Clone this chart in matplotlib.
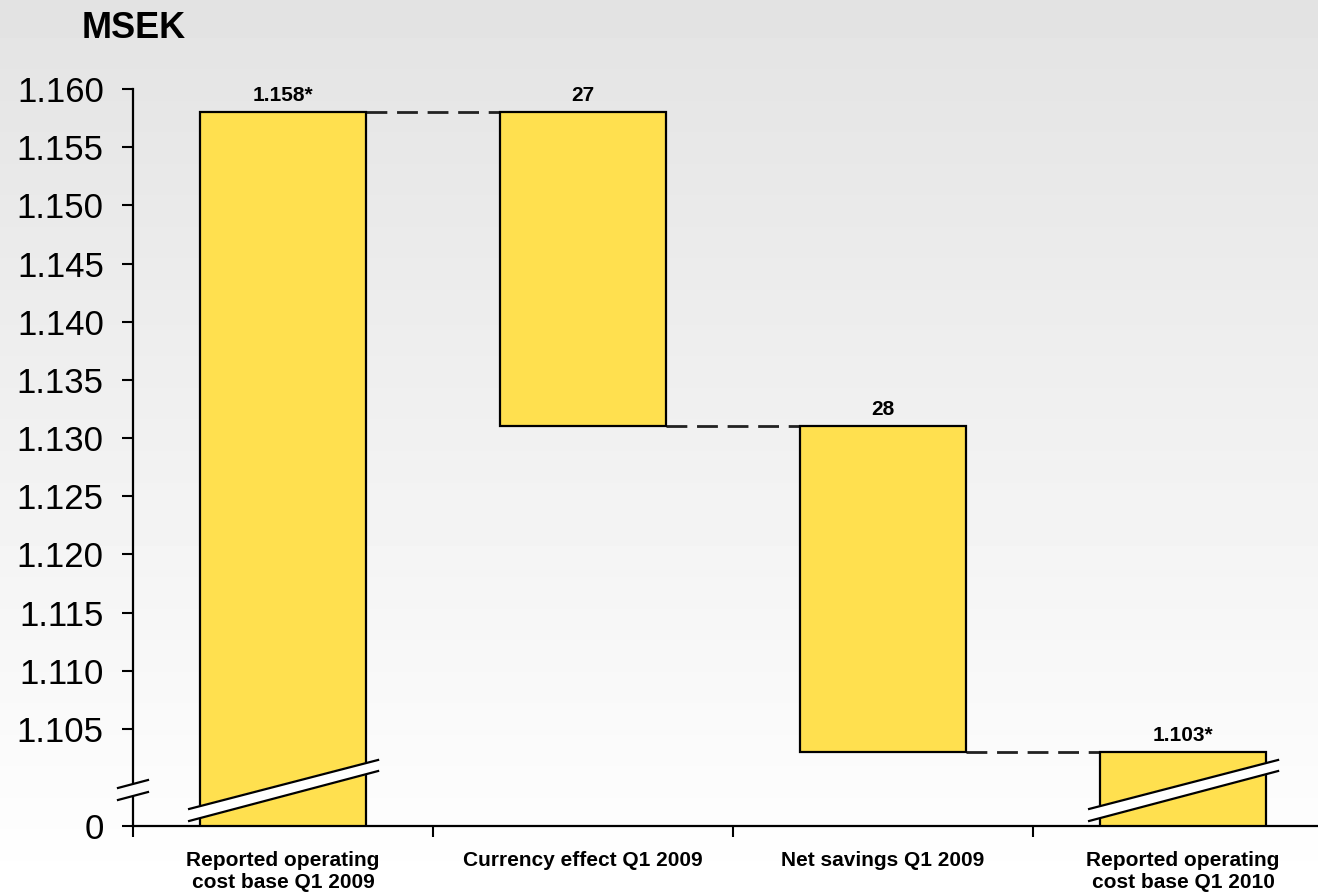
import matplotlib
matplotlib.use("Agg")
import matplotlib.pyplot as plt
import matplotlib.transforms as mtrans
import numpy as np

plt.rcParams["font.family"] = ["Liberation Sans", "DejaVu Sans"]

# data (MSEK)
categories = ["Reported operating\ncost base Q1 2009", "Currency effect Q1 2009",
              "Net savings Q1 2009", "Reported operating\ncost base Q1 2010"]
start_value = 1158
changes = [-27, -28]
end_value = 1103
labels = ["1.158*", "27", "28", "1.103*"]
ytick_vals = [1105, 1110, 1115, 1120, 1125, 1130, 1135, 1140, 1145, 1150, 1155, 1160]

YELLOW = "#FFE04F"
BASE = 1096.66          # where "0" sits on the broken axis
TOP = 1160

# waterfall geometry
tops, bottoms = [start_value], [BASE]
level = start_value
for c in changes:
    tops.append(level); bottoms.append(level + c); level += c
tops.append(end_value); bottoms.append(BASE)
tops = np.array(tops, float); bottoms = np.array(bottoms, float)
x = np.arange(len(categories))
w = 0.553

fig = plt.figure(figsize=(13.18, 8.96), dpi=100)

# gradient background
bg = fig.add_axes([0, 0, 1, 1], zorder=-10)
grad = np.linspace(0.89, 1.0, 256).reshape(-1, 1)
bg.imshow(grad, aspect="auto", cmap="gray", vmin=0, vmax=1, extent=[0, 1, 0, 1], origin="upper")
bg.axis("off")

ax = fig.add_axes([133 / 1318, 70 / 896, 1185 / 1318, 737 / 896])
ax.set_facecolor("none")

ax.bar(x, tops - bottoms, w, bottom=bottoms, color=YELLOW, edgecolor="black", linewidth=1.6, zorder=3)

# dashed connectors
for i in range(len(x) - 1):
    yv = tops[i] if i == 0 else bottoms[i]
    ax.plot([x[i] + w / 2, x[i + 1] - w / 2], [yv, yv], color="#222222", lw=2,
            dashes=(7.5, 3.5), zorder=2)

# value labels
for xi, t, lab in zip(x, tops, labels):
    ax.annotate(lab, (xi, t), xytext=(0, 5), textcoords="offset points",
                ha="center", va="bottom", fontsize=15, fontweight="bold")

# bar breaks
bt = mtrans.blended_transform_factory(ax.transData, ax.transAxes)
for i in [0, 3]:
    c = x[i]
    xl, xr = c - 0.313, c + 0.317
    up = ([xl, xr], [0.0231, 0.0896])
    lo = ([xl, xr], [0.0068, 0.0746])
    ax.fill([xl, xr, xr, xl], [up[1][0], up[1][1], lo[1][1], lo[1][0]], color="white",
            transform=bt, zorder=4, clip_on=False)
    for xs, ys in (up, lo):
        ax.plot(xs, ys, color="black", lw=1.6, transform=bt, zorder=5, clip_on=False)

# axis break on the y spine
bx = [-15 / 1185, 15 / 1185]
ax.fill([bx[0], bx[1], bx[1], bx[0]], [0.0516, 0.0624, 0.0461, 0.0353], color="#FBFBFB",
        transform=ax.transAxes, zorder=6, clip_on=False, lw=0)
ax.plot(bx, [0.0516, 0.0624], color="black", lw=1.6, transform=ax.transAxes, zorder=7, clip_on=False)
ax.plot(bx, [0.0353, 0.0461], color="black", lw=1.6, transform=ax.transAxes, zorder=7, clip_on=False)

ax.set_ylim(BASE, TOP)
ax.set_xlim(-0.5, 3.45)
ax.set_yticks([BASE] + ytick_vals)
ax.set_yticklabels(["0"] + [f"{v:,}".replace(",", ".") for v in ytick_vals])
ax.tick_params(axis="y", labelsize=25, length=8, width=1.5, pad=13)

ax.set_xticks(x)
ax.set_xticklabels(categories, fontsize=15, fontweight="bold", linespacing=1.2)
ax.set_xticks(np.arange(-0.5, 3.0, 1.0), minor=True)
ax.tick_params(axis="x", which="major", length=0, pad=18)
ax.tick_params(axis="x", which="minor", length=8, width=1.5, direction="out")

for s in ["top", "right"]:
    ax.spines[s].set_visible(False)
ax.spines["left"].set_linewidth(1.6)
ax.spines["bottom"].set_linewidth(1.6)

fig.text(82 / 1318, 1 - 28 / 896, "MSEK", fontsize=26, fontweight="bold", va="center", ha="left")

fig.savefig("out.png", dpi=100)
